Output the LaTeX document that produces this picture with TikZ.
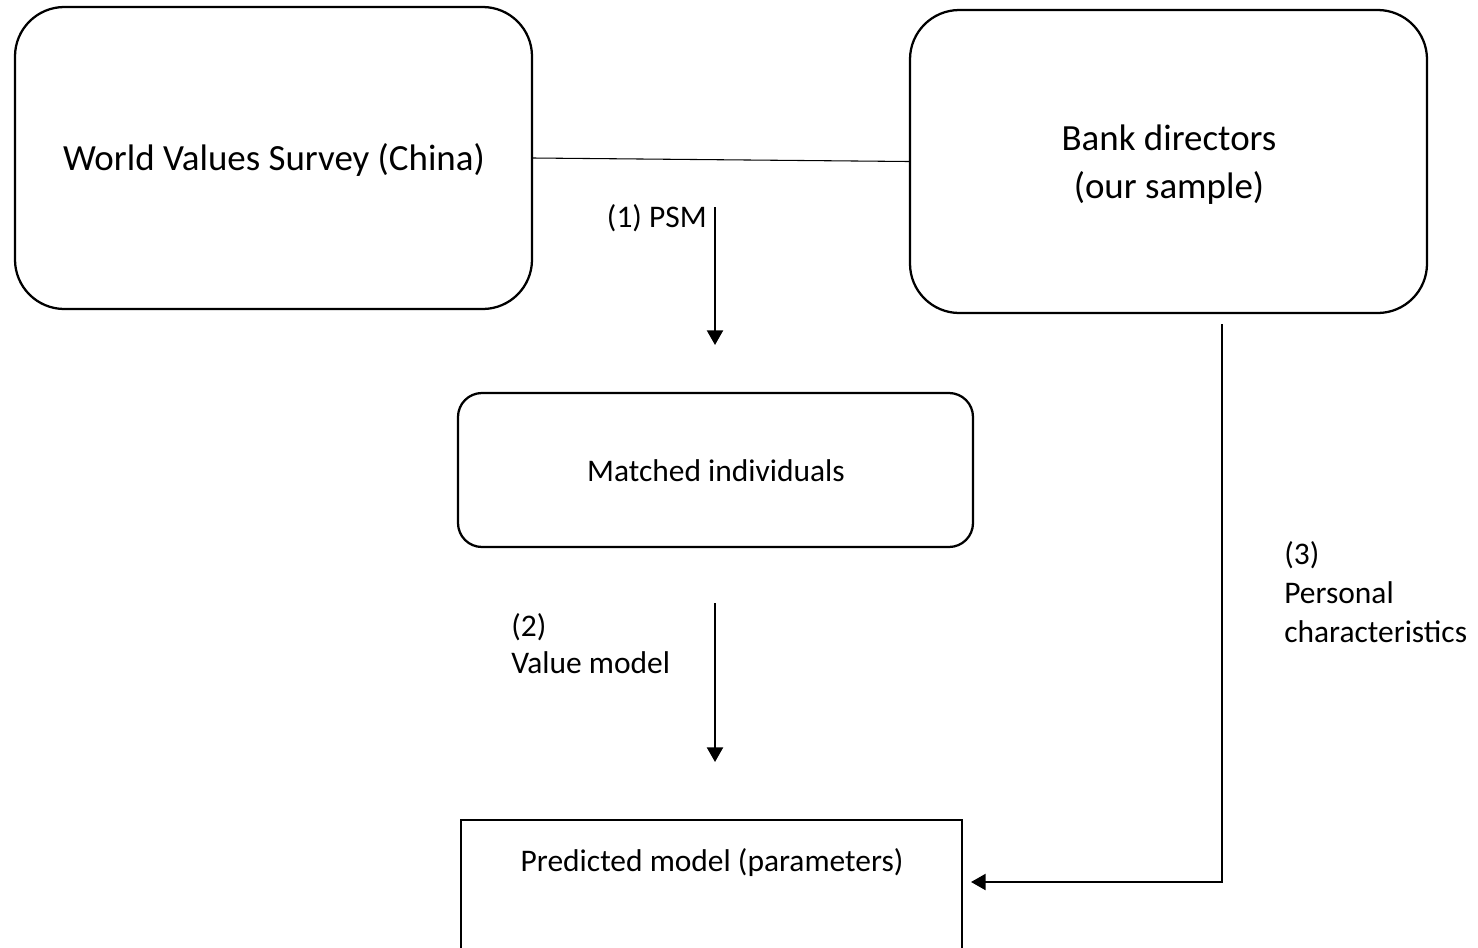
\documentclass[tikz,border=0pt]{standalone}
\usepackage{fontspec}
\setmainfont{Carlito}
\usetikzlibrary{arrows.meta}
\begin{document}
\begin{tikzpicture}[x=0.75pt,y=-0.75pt,
  bigbox/.style={draw, line width=1.7pt, rounded corners=37pt, inner sep=0pt},
  midbox/.style={draw, line width=1.7pt, rounded corners=18pt, inner sep=0pt},
  sqbox/.style={draw, line width=1.7pt, inner sep=0pt},
  bigtxt/.style={font=\fontsize{27.7pt}{36pt}\selectfont, align=center, inner sep=0pt},
  smtxt/.style={font=\fontsize{23.6pt}{28pt}\selectfont, inner sep=0pt},
  arr/.style={line width=1.7pt, -{Triangle[width=12pt,length=11pt]}},
  thin/.style={line width=0.8pt}]
\useasboundingbox (0,0) rectangle (1478,947);
\clip (0,0) rectangle (1478,947);
% boxes
\node[bigbox, minimum width=387.75pt, minimum height=226.5pt] (wvs) at (273.5,158) {};
\node[bigtxt] (wvst) at (274,160) {World Values Survey (China)};
\node[bigbox, minimum width=387.75pt, minimum height=227.25pt] (bank) at (1168.5,161.5) {};
\node[bigtxt] (bankt) at (1169,165) {Bank directors\\(our sample)};
\node[midbox, minimum width=386.25pt, minimum height=115.5pt] (matched) at (715.5,470) {};
\node[smtxt] (matchedt) at (716,471) {Matched individuals};
\node[sqbox, minimum width=375.75pt, minimum height=135pt] (pred) at (711.5,910) {};
\node[smtxt] (predt) at (712,863) {Predicted model (parameters)};
% connectors
\draw[thin] (wvs.east) -- (bank.west);
\coordinate (a1s) at (715,207);
\coordinate (a1e) at (715,345);
\draw[arr] (a1s) -- (a1e);
\node[smtxt, anchor=east] (l1) at (707,218) {(1) PSM};
\coordinate (a2s) at (715,603);
\coordinate (a2e) at (715,762);
\draw[arr] (a2s) -- (a2e);
\node[smtxt, anchor=west, align=left, font=\fontsize{23.6pt}{27.75pt}\selectfont] (l2) at (511,644) {(2)\\Value model};
\coordinate (a3s) at (1222,324);
\coordinate (a3e) at (971,882);
\draw[arr] (a3s) |- (a3e);
\node[smtxt, anchor=west, align=left, font=\fontsize{23.6pt}{29pt}\selectfont] (l3) at (1284,592) {(3)\\Personal\\characteristics};
\end{tikzpicture}
\end{document}
